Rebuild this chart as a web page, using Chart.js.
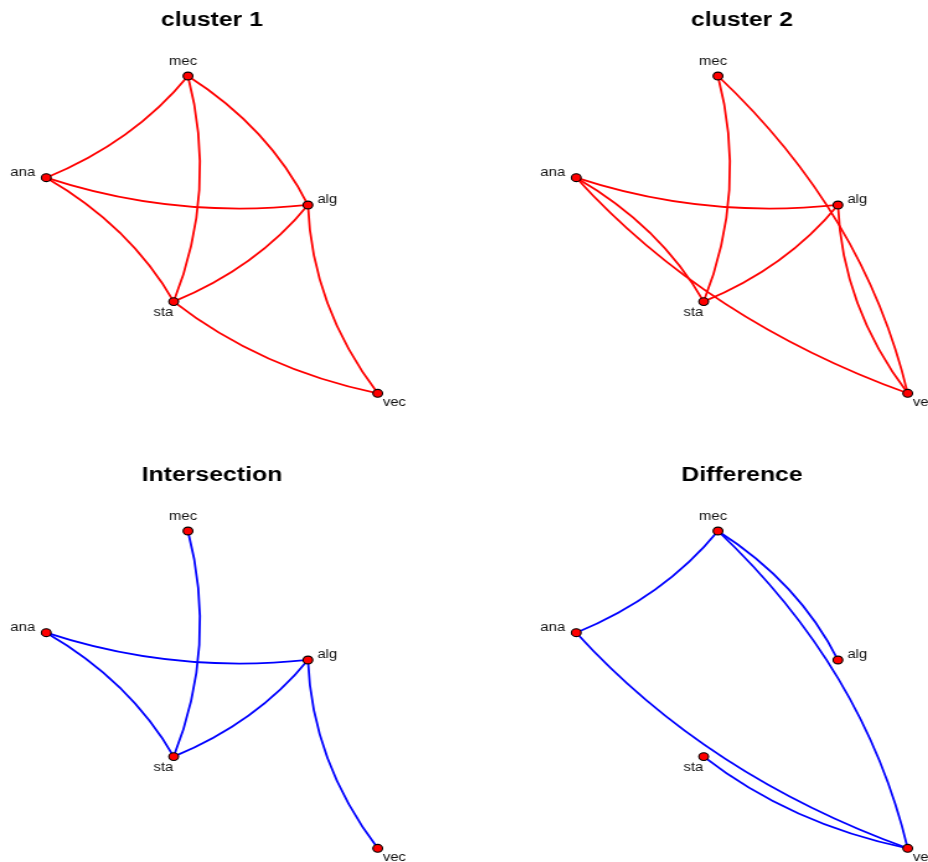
<!DOCTYPE html>
<html>
<head>
<meta charset="utf-8">
<script src="https://cdn.jsdelivr.net/npm/chart.js@4.4.1/dist/chart.umd.min.js"></script>
<style>
    html, body {
        margin: 0;
        padding: 0;
        width: 928px;
        height: 862px;
        overflow: hidden;
        background: #ffffff;
    }
    /* cada panel se dibuja estrecho y se estira en horizontal */
    .panel {
        position: absolute;
        width: 428px;
        height: 455px;
        transform: scaleX(1.24);
        transform-origin: 0 0;
    }
</style>
</head>
<body>
<div class="panel" style="left:0px; top:0px;"><canvas id="chart1" width="428" height="455"></canvas></div>
<div class="panel" style="left:530px; top:0px;"><canvas id="chart2" width="428" height="455"></canvas></div>
<div class="panel" style="left:0px; top:455px;"><canvas id="chart3" width="428" height="455"></canvas></div>
<div class="panel" style="left:530px; top:455px;"><canvas id="chart4" width="428" height="455"></canvas></div>

<script>
// Nodos y su layout (coordenadas normalizadas -1..1)
const NODES = ['mec', 'ana', 'alg', 'sta', 'vec'];
const NODE_X = [-0.145, -1.0, 0.579, -0.231, 1.0];
const NODE_Y = [1.0, 0.359, 0.187, -0.422, -1.0];

// Aristas [desde, hasta]; la curva se dobla hacia la izquierda del sentido
const EDGES_CLUSTER1 = [
    ['mec', 'ana'], ['mec', 'alg'], ['mec', 'sta'], ['alg', 'ana'],
    ['ana', 'sta'], ['alg', 'sta'], ['vec', 'alg'], ['vec', 'sta']
];
const EDGES_CLUSTER2 = [
    ['mec', 'sta'], ['mec', 'vec'], ['alg', 'ana'], ['ana', 'sta'],
    ['vec', 'ana'], ['alg', 'sta'], ['vec', 'alg']
];
const EDGES_INTERSECTION = [
    ['mec', 'sta'], ['alg', 'ana'], ['ana', 'sta'], ['alg', 'sta'], ['vec', 'alg']
];
const EDGES_DIFFERENCE = [
    ['mec', 'ana'], ['mec', 'alg'], ['mec', 'vec'], ['vec', 'ana'], ['vec', 'sta']
];

const TITLES = ['cluster 1', 'cluster 2', 'Intersection', 'Difference'];

// Estilo
const FONT = "'Liberation Sans', Arial, Helvetica, sans-serif";
const EDGE_CURVE = 0.132;
const RED = '#ff0000';
const BLUE = '#0000ff';
const LABEL_OFFSET = {
    mec: [-4, -11.3],
    ana: [-19, -2],
    alg: [15.6, -2],
    sta: [-8.4, 14],
    vec: [13.4, 13]
};

// Aristas curvas (antes de los puntos, como en igraph)
const edgePlugin = {
    id: 'graphEdges',
    beforeDatasetsDraw(chart, args, opts) {
        const { ctx } = chart;
        const xs = chart.scales.x;
        const ys = chart.scales.y;
        ctx.save();
        ctx.strokeStyle = opts.color;
        ctx.lineWidth = 1.8;
        opts.edges.forEach(edge => {
            const i = NODES.indexOf(edge[0]);
            const j = NODES.indexOf(edge[1]);
            const x0 = xs.getPixelForValue(NODE_X[i]);
            const y0 = ys.getPixelForValue(NODE_Y[i]);
            const x1 = xs.getPixelForValue(NODE_X[j]);
            const y1 = ys.getPixelForValue(NODE_Y[j]);
            const dx = x1 - x0;
            const dy = y1 - y0;
            const cx = (x0 + x1) / 2 + EDGE_CURVE * dy;
            const cy = (y0 + y1) / 2 - EDGE_CURVE * dx;
            ctx.beginPath();
            ctx.moveTo(x0, y0);
            ctx.quadraticCurveTo(cx, cy, x1, y1);
            ctx.stroke();
        });
        ctx.restore();
    }
};

// Etiquetas de los nodos
const labelPlugin = {
    id: 'nodeLabels',
    afterDatasetsDraw(chart) {
        const { ctx } = chart;
        const xs = chart.scales.x;
        const ys = chart.scales.y;
        ctx.save();
        ctx.font = '12px ' + FONT;
        ctx.fillStyle = '#111111';
        ctx.textAlign = 'center';
        ctx.textBaseline = 'alphabetic';
        NODES.forEach((name, i) => {
            const off = LABEL_OFFSET[name];
            ctx.fillText(name, xs.getPixelForValue(NODE_X[i]) + off[0], ys.getPixelForValue(NODE_Y[i]) + off[1]);
        });
        ctx.restore();
    }
};

function makeGraph(canvasId, title, edges, color) {
    const points = NODES.map((n, i) => ({ x: NODE_X[i], y: NODE_Y[i] }));
    return new Chart(document.getElementById(canvasId), {
        type: 'scatter',
        data: {
            datasets: [{
                data: points,
                pointRadius: 3.9,
                pointHoverRadius: 3.9,
                pointBackgroundColor: RED,
                pointBorderColor: '#000000',
                pointBorderWidth: 1.1,
                clip: false
            }]
        },
        options: {
            responsive: false,
            animation: false,
            events: [],
            layout: {
                padding: { left: 37.3, right: 123.4, top: 0, bottom: 61.7 }
            },
            scales: {
                x: { type: 'linear', min: -1, max: 1, display: false },
                y: { type: 'linear', min: -1, max: 1, display: false }
            },
            plugins: {
                legend: { display: false },
                tooltip: { enabled: false },
                title: {
                    display: true,
                    text: title,
                    color: '#000000',
                    font: { family: FONT, size: 20, weight: 'bold' },
                    padding: { top: 8, bottom: 44 }
                },
                graphEdges: { edges: edges, color: color }
            }
        },
        plugins: [edgePlugin, labelPlugin]
    });
}

makeGraph('chart1', TITLES[0], EDGES_CLUSTER1, RED);
makeGraph('chart2', TITLES[1], EDGES_CLUSTER2, RED);
makeGraph('chart3', TITLES[2], EDGES_INTERSECTION, BLUE);
makeGraph('chart4', TITLES[3], EDGES_DIFFERENCE, BLUE);
</script>
</body>
</html>
